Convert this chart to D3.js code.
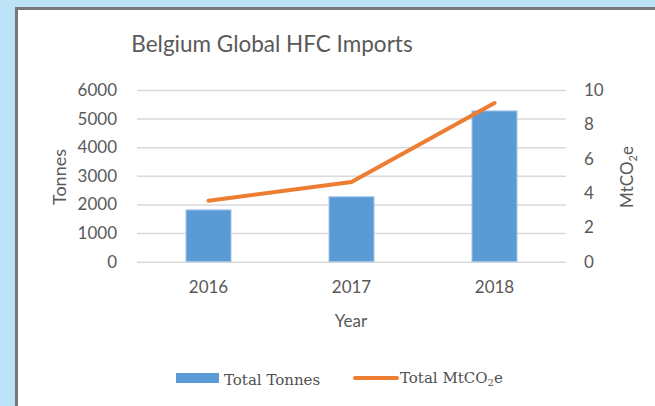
<!DOCTYPE html>
<html>
	<head>
		<script src="https://d3js.org/d3.v7.min.js"></script>
		<style>
			body {
				margin: 0;
				background: #bde3f8;
			}
			.tick text {
				font-family: Lato, 'Open Sans', sans-serif;
				fill: #595959;
			}
			.grid line {
				stroke: #d9d9d9;
				stroke-width: 1.5px;
			}
			.legend text {
				font-family: 'DejaVu Serif', serif;
				fill: #505050;
			}
		</style>
	</head>
	<body>
		<svg id="chart" width="655" height="406"></svg>
		<script>
			// data
			const years = ['2016', '2017', '2018'];
			const totalTonnes = [1810, 2270, 5270];
			const totalMtCO2e = [3.55, 4.64, 9.24];
			const leftTicks = [0, 1000, 2000, 3000, 4000, 5000, 6000];
			const rightTicks = [0, 2, 4, 6, 8, 10];

			const svg = d3.select('svg#chart');
			const plot = { left: 137, right: 566, top: 90, bottom: 261.7 };

			// panel
			svg.append('rect')
				.attr('x', 16.5)
				.attr('y', 8.5)
				.attr('width', 700)
				.attr('height', 420)
				.attr('fill', 'white')
				.attr('stroke', '#787878')
				.attr('stroke-width', 3);

			svg.append('text')
				.attr('x', 272)
				.attr('y', 52)
				.attr('text-anchor', 'middle')
				.style('font-family', 'Lato, sans-serif')
				.style('font-size', '22.5px')
				.attr('fill', '#595959')
				.text('Belgium Global HFC Imports');

			const x = d3.scaleBand().domain(years).range([plot.left, plot.right]).paddingInner(0.685).paddingOuter(0.3425);
			const yLeft = d3.scaleLinear().domain([0, 6000]).range([plot.bottom, plot.top]);
			const yRight = d3.scaleLinear().domain([0, 10]).range([plot.bottom, plot.top]);

			// gridlines
			svg.append('g')
				.attr('class', 'grid')
				.attr('transform', `translate(${plot.left},0)`)
				.call(d3.axisLeft(yLeft).tickValues(leftTicks).tickSize(-(plot.right - plot.left)).tickFormat(''))
				.call((g) => g.select('.domain').remove());

			// left axis
			svg.append('g')
				.attr('transform', `translate(${plot.left},0)`)
				.call(d3.axisLeft(yLeft).tickValues(leftTicks).tickSize(0).tickPadding(20).tickFormat(d3.format('d')))
				.call((g) => g.select('.domain').remove())
				.selectAll('text')
				.style('font-size', '17px');

			// right axis
			svg.append('g')
				.attr('transform', `translate(${plot.right},0)`)
				.call(d3.axisRight(yRight).tickValues(rightTicks).tickSize(0).tickPadding(18))
				.call((g) => g.select('.domain').remove())
				.selectAll('text')
				.style('font-size', '17px');

			// bottom axis
			svg.append('g')
				.attr('transform', `translate(0,${plot.bottom})`)
				.call(d3.axisBottom(x).tickSize(0).tickPadding(19))
				.call((g) => g.select('.domain').remove())
				.selectAll('text')
				.style('font-size', '17px');

			// bars
			svg.selectAll('rect.bar')
				.data(years)
				.join('rect')
				.attr('class', 'bar')
				.attr('x', (d) => x(d))
				.attr('width', x.bandwidth())
				.attr('y', (d, i) => yLeft(totalTonnes[i]))
				.attr('height', (d, i) => yLeft(0) - yLeft(totalTonnes[i]))
				.attr('fill', '#5b9bd5')
				.attr('stroke', '#a8c9ea')
				.attr('stroke-width', 1);

			// line
			const line = d3.line()
				.x((d, i) => x(years[i]) + x.bandwidth() / 2)
				.y((d) => yRight(d));
			svg.append('path')
				.datum(totalMtCO2e)
				.attr('d', line)
				.attr('fill', 'none')
				.attr('stroke', '#ed7d31')
				.attr('stroke-width', 4)
				.attr('stroke-linecap', 'round')
				.attr('stroke-linejoin', 'round');

			// axis titles
			const axisFont = 'Lato, sans-serif';
			svg.append('text')
				.attr('x', 351)
				.attr('y', 327)
				.attr('text-anchor', 'middle')
				.style('font-family', axisFont)
				.style('font-size', '17px')
				.attr('fill', '#595959')
				.text('Year');

			svg.append('text')
				.attr('transform', 'translate(66,177) rotate(-90)')
				.attr('text-anchor', 'middle')
				.style('font-family', axisFont)
				.style('font-size', '18px')
				.attr('fill', '#595959')
				.text('Tonnes');

			const mt = svg.append('text')
				.attr('transform', 'translate(633,177) rotate(-90)')
				.attr('text-anchor', 'middle')
				.style('font-family', axisFont)
				.style('font-size', '17px')
				.attr('fill', '#595959');
			mt.append('tspan').text('MtCO');
			mt.append('tspan').attr('dy', 4).style('font-size', '11px').text('2');
			mt.append('tspan').attr('dy', -4).text('e');

			// legend
			const legend = svg.append('g').attr('class', 'legend');
			legend.append('rect')
				.attr('x', 176)
				.attr('y', 373)
				.attr('width', 43)
				.attr('height', 10)
				.attr('fill', '#5b9bd5');
			legend.append('text')
				.attr('x', 224)
				.attr('y', 385)
				.style('font-size', '15px')
				.text('Total Tonnes');

			legend.append('line')
				.attr('x1', 355)
				.attr('x2', 397)
				.attr('y1', 378)
				.attr('y2', 378)
				.attr('stroke', '#ed7d31')
				.attr('stroke-width', 4)
				.attr('stroke-linecap', 'round');
			const lt = legend.append('text')
				.attr('x', 400)
				.attr('y', 383)
				.style('font-size', '15px');
			lt.append('tspan').text('Total MtCO');
			lt.append('tspan').attr('dy', 3).style('font-size', '10px').text('2');
			lt.append('tspan').attr('dy', -3).text('e');
		</script>
	</body>
</html>
